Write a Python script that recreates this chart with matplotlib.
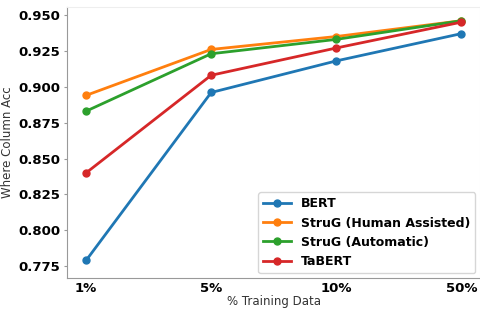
import matplotlib
matplotlib.use("Agg")
import matplotlib.pyplot as plt

x_labels = ["1%", "5%", "10%", "50%"]
bert = [0.779, 0.896, 0.918, 0.937]
strug_human = [0.894, 0.926, 0.935, 0.946]
strug_auto = [0.883, 0.923, 0.933, 0.946]
tabert = [0.840, 0.908, 0.927, 0.945]

fig, ax = plt.subplots(figsize=(4.81, 3.16), dpi=100)
xs = list(range(len(x_labels)))
ax.plot(xs, bert, "o-", color="#1f77b4", lw=2, ms=5, label="BERT")
ax.plot(xs, strug_human, "o-", color="#ff7f0e", lw=2, ms=5, label="StruG (Human Assisted)")
ax.plot(xs, strug_auto, "o-", color="#2ca02c", lw=2, ms=5, label="StruG (Automatic)")
ax.plot(xs, tabert, "o-", color="#d62728", lw=2, ms=5, label="TaBERT")

ax.set_xticks(xs)
ax.set_xticklabels(x_labels, fontweight="bold", fontsize=9.5)
ax.set_yticks([0.775, 0.800, 0.825, 0.850, 0.875, 0.900, 0.925, 0.950])
ax.set_yticklabels(["%.3f" % v for v in ax.get_yticks()], fontweight="bold", fontsize=9.5)
ax.set_ylim(0.7667, 0.9556)
ax.set_xlabel("% Training Data", fontsize=8.5, color="#333333", labelpad=0)
ax.set_ylabel("Where Column Acc", fontsize=8.5, color="#333333", labelpad=3)

for s in ["left", "bottom"]:
    ax.spines[s].set_color("#999999")
for s in ["top", "right"]:
    ax.spines[s].set_color("#eeeeee")
ax.tick_params(axis="y", length=2, color="#999999", pad=3)
ax.tick_params(axis="x", length=0, pad=3)

leg = ax.legend(loc="lower right", prop={"weight": "bold", "size": 9},
                borderaxespad=0.4, handlelength=2.2)

fig.subplots_adjust(left=0.14, right=0.998, top=0.978, bottom=0.12)
fig.savefig("out.png")
